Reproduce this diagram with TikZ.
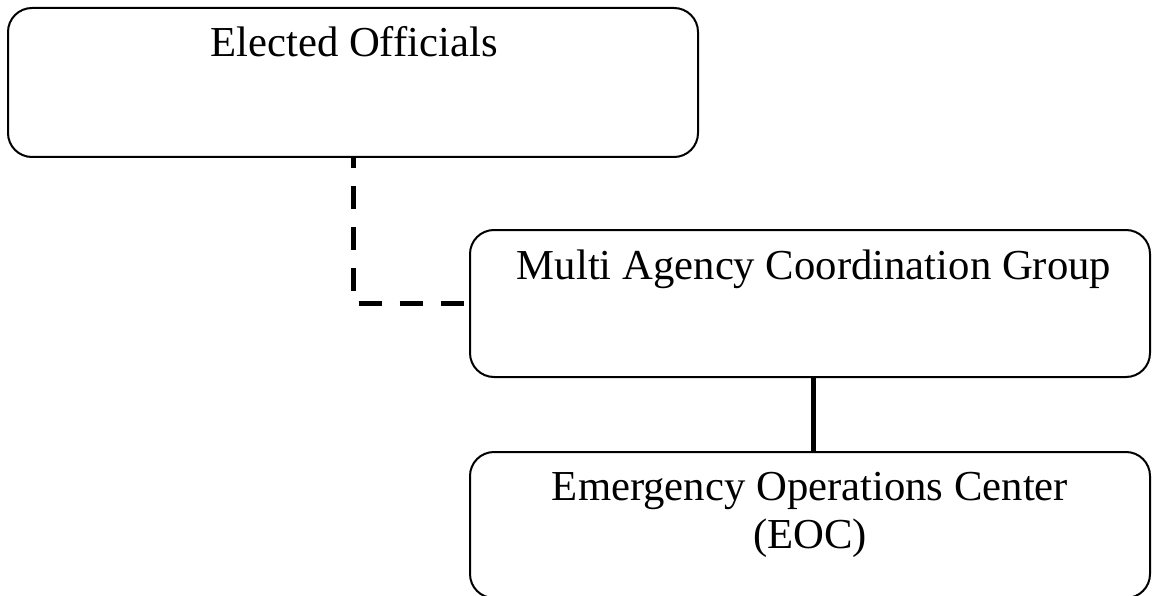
\documentclass[tikz,border=0pt]{standalone}
\usepackage{fontspec}
\setmainfont{Liberation Serif}
\begin{document}
\begin{tikzpicture}[x=1pt,y=1pt,
  orgbox/.style={draw=black, line width=2pt, rounded corners=24pt, fill=white,
    inner sep=0pt, minimum width=#1},
  boxtext/.style={anchor=base, font=\fontsize{42.7}{48}\selectfont, inner sep=0pt, align=center},
  link/.style={line width=5pt, line cap=butt},
  dashlink/.style={link, dash pattern=on 23pt off 18pt, dash phase=13pt}]
  \useasboundingbox (0,0) rectangle (1153,-596);
  \begin{scope}
    \clip (0,0) rectangle (1153,-596);
    % boxes
    \node[orgbox=690pt, minimum height=149pt] (eo)  at (353,-82.5) {};
    \node[orgbox=680pt, minimum height=147pt] (mac) at (810,-303.5) {};
    \node[orgbox=680pt, minimum height=146pt] (eoc) at (810,-525) {};
    % connectors
    \draw[dashlink] (eo.south) |- (mac.west);
    \draw[link] (mac.south -| 813,0) -- (eoc.north -| 813,0);
  \end{scope}
  % labels
  \node[boxtext] (eot)  at (354,-57)  {Elected Officials};
  \node[boxtext] (mact) at (814,-279) {Multi Agency Coordination Group};
  \node[boxtext] (eoct) at (810,-500) {Emergency Operations Center};
  \node[boxtext] (eocs) at (810,-548) {(EOC)};
\end{tikzpicture}
\end{document}
